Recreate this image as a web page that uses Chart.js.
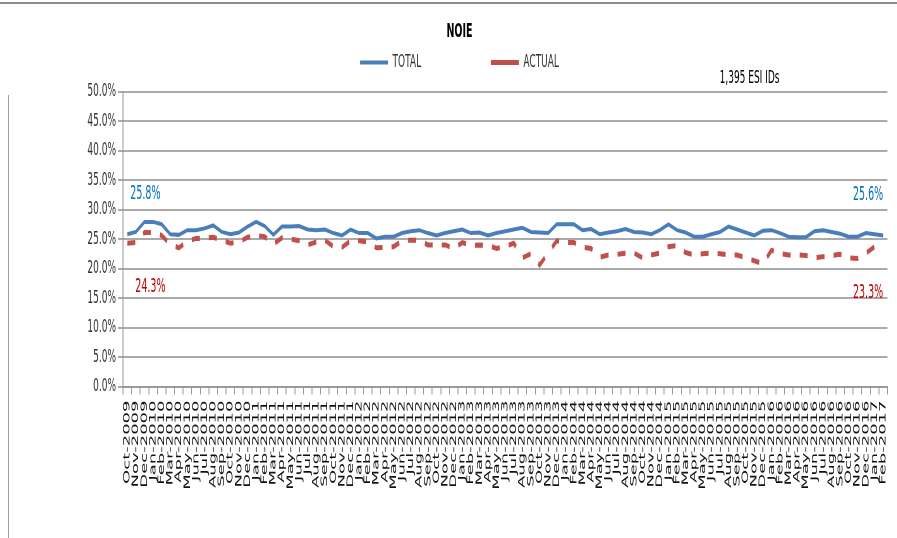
<!DOCTYPE html>
<html>
<head>
<meta charset="utf-8">
<script src="https://cdn.jsdelivr.net/npm/chart.js@4"></script>
<style>
  body { margin: 0; background: #fff; width: 897px; height: 538px; overflow: hidden; position: relative; }
  #mychart { position: absolute; left: 0; top: 0; transform: scaleY(2); transform-origin: 0 0; }
  .frameTop { position: absolute; left: 0; top: 2px; width: 897px; height: 2px; background: #8c8c8c; }
  .frameLeft { position: absolute; left: 8px; top: 95px; width: 1px; height: 443px; background: #a0a0a0; }
</style>
</head>
<body>
<div class="frameTop"></div>
<div class="frameLeft"></div>
<canvas id="mychart" width="897" height="269"></canvas>
<script>
var months = [
  'Oct-2009', 'Nov-2009', 'Dec-2009',
  'Jan-2010', 'Feb-2010', 'Mar-2010', 'Apr-2010', 'May-2010', 'Jun-2010', 'Jul-2010', 'Aug-2010', 'Sep-2010', 'Oct-2010', 'Nov-2010', 'Dec-2010',
  'Jan-2011', 'Feb-2011', 'Mar-2011', 'Apr-2011', 'May-2011', 'Jun-2011', 'Jul-2011', 'Aug-2011', 'Sep-2011', 'Oct-2011', 'Nov-2011', 'Dec-2011',
  'Jan-2012', 'Feb-2012', 'Mar-2012', 'Apr-2012', 'May-2012', 'Jun-2012', 'Jul-2012', 'Aug-2012', 'Sep-2012', 'Oct-2012', 'Nov-2012', 'Dec-2012',
  'Jan-2013', 'Feb-2013', 'Mar-2013', 'Apr-2013', 'May-2013', 'Jun-2013', 'Jul-2013', 'Aug-2013', 'Sep-2013', 'Oct-2013', 'Nov-2013', 'Dec-2013',
  'Jan-2014', 'Feb-2014', 'Mar-2014', 'Apr-2014', 'May-2014', 'Jun-2014', 'Jul-2014', 'Aug-2014', 'Sep-2014', 'Oct-2014', 'Nov-2014', 'Dec-2014',
  'Jan-2015', 'Feb-2015', 'Mar-2015', 'Apr-2015', 'May-2015', 'Jun-2015', 'Jul-2015', 'Aug-2015', 'Sep-2015', 'Oct-2015', 'Nov-2015', 'Dec-2015',
  'Jan-2016', 'Feb-2016', 'Mar-2016', 'Apr-2016', 'May-2016', 'Jun-2016', 'Jul-2016', 'Aug-2016', 'Sep-2016', 'Oct-2016', 'Nov-2016', 'Dec-2016',
  'Jan-2017', 'Feb-2017'
];

// percent values, one per month
var total = [
  25.8, 26.2, 27.9, 27.9, 27.5, 25.8, 25.7, 26.5, 26.5, 26.8, 27.3, 26.2, 25.8, 26.1, 27.1,
  27.9, 27.2, 25.7, 27.1, 27.1, 27.2, 26.6, 26.5, 26.6, 26.0, 25.6, 26.6, 26.0, 26.0, 25.1,
  25.4, 25.4, 26.0, 26.3, 26.5, 26.0, 25.6, 26.0, 26.3, 26.6, 26.0, 26.1, 25.6, 26.0, 26.3,
  26.6, 26.9, 26.2, 26.1, 26.0, 27.5, 27.5, 27.5, 26.5, 26.7, 25.8, 26.1, 26.3, 26.7, 26.2,
  26.1, 25.8, 26.5, 27.5, 26.5, 26.1, 25.4, 25.4, 25.8, 26.2, 27.1, 26.6, 26.1, 25.6, 26.4,
  26.5, 26.0, 25.4, 25.3, 25.3, 26.3, 26.5, 26.2, 25.9, 25.4, 25.4, 26.0, 25.8, 25.6
];
var actual = [
  24.3, 24.4, 26.1, 26.1, 25.6, 24.1, 23.5, 24.6, 25.1, 25.1, 25.3, 24.8, 24.3, 24.5, 25.3,
  25.6, 25.4, 24.1, 25.2, 25.0, 24.7, 24.0, 24.5, 24.8, 23.7, 23.6, 24.7, 24.7, 24.5, 23.5,
  23.6, 23.7, 24.7, 24.8, 24.8, 24.0, 24.0, 24.0, 23.4, 24.4, 23.9, 24.0, 23.9, 23.4, 23.7,
  24.3, 21.8, 22.5, 20.6, 22.6, 24.7, 24.4, 24.4, 23.6, 23.4, 21.9, 22.3, 22.4, 22.6, 22.6,
  21.8, 22.3, 22.6, 23.7, 23.9, 22.7, 22.3, 22.5, 22.6, 22.5, 22.3, 22.3, 21.8, 21.3, 20.8,
  23.1, 22.5, 22.3, 22.3, 22.2, 21.8, 22.0, 22.2, 22.4, 21.8, 21.7, 22.6, 23.7, 23.3
];
var yTicks = [0, 5, 10, 15, 20, 25, 30, 35, 40, 45, 50];
var esiNote = '1,395 ESI IDs';

var font = 'DejaVu Sans';

// first / last value labels and the ESI note
var endLabels = {
  id: 'endLabels',
  afterDatasetsDraw: function (chart) {
    var ctx = chart.ctx;
    ctx.save();
    ctx.font = '9.5px "DejaVu Sans"';
    ctx.textBaseline = 'middle';
    chart.data.datasets.forEach(function (ds, i) {
      var pts = chart.getDatasetMeta(i).data;
      var first = pts[0];
      var last = pts[pts.length - 1];
      var dy = i === 0 ? -20 : 22;
      ctx.fillStyle = ds.labelColor;
      ctx.textAlign = 'left';
      ctx.fillText(ds.data[0].toFixed(1) + '%', first.x + (i === 0 ? 3 : 8), first.y + dy);
      ctx.textAlign = 'right';
      ctx.fillText(ds.data[ds.data.length - 1].toFixed(1) + '%', last.x, last.y + dy);
    });
    ctx.font = '9px "DejaVu Sans"';
    ctx.fillStyle = '#000';
    ctx.textAlign = 'right';
    ctx.fillText(esiNote, chart.chartArea.right - 108, 39);
    ctx.restore();
  }
};

var myChart = new Chart(document.getElementById('mychart'), {
  type: 'line',
  data: {
    labels: months,
    datasets: [{
      label: 'TOTAL',
      data: total,
      borderColor: '#4A7EBB',
      backgroundColor: '#4A7EBB',
      borderWidth: 2,
      pointRadius: 0,
      tension: 0,
      labelColor: '#0070C0'
    }, {
      label: 'ACTUAL',
      data: actual,
      borderColor: '#C0504D',
      backgroundColor: '#C0504D',
      borderWidth: 2.5,
      borderDash: [8, 9],
      pointRadius: 0,
      tension: 0,
      labelColor: '#C00000'
    }]
  },
  options: {
    responsive: false,
    devicePixelRatio: 2,
    animation: false,
    layout: { padding: { left: 31, right: 9, top: 0, bottom: 0 } },
    plugins: {
      title: {
        display: true,
        text: 'NOIE',
        color: '#000',
        font: { family: font, size: 9.5, weight: 'bold' },
        padding: { top: 8, bottom: 1 }
      },
      legend: {
        labels: {
          usePointStyle: true,
          pointStyle: 'line',
          pointStyleWidth: 28,
          padding: 4,
          color: '#333',
          font: { family: font, size: 9 },
          generateLabels: function (chart) {
            var items = Chart.defaults.plugins.legend.labels.generateLabels(chart);
            items[0].text = items[0].text + ' '.repeat(23);
            return items;
          }
        }
      },
      tooltip: { enabled: false }
    },
    scales: {
      x: {
        offset: true,
        grid: { offset: true, drawOnChartArea: false, tickLength: 4, color: '#999' },
        border: { color: '#999' },
        ticks: {
          autoSkip: false,
          minRotation: 90,
          maxRotation: 90,
          padding: 3,
          color: '#111',
          font: { family: font, size: 9 }
        },
        afterFit: function (scale) { scale.height = 75.75; }
      },
      y: {
        min: 0,
        max: 50,
        afterBuildTicks: function (scale) {
          scale.ticks = yTicks.map(function (v) { return { value: v }; });
        },
        ticks: {
          padding: 2,
          color: '#333',
          font: { family: font, size: 9 },
          callback: function (v) { return v.toFixed(1) + '%'; }
        },
        grid: { color: '#aaa', tickLength: 5 },
        border: { color: '#999' },
        afterFit: function (scale) {
          scale.width = 92;
          scale.paddingTop = 45.75;
        }
      }
    }
  },
  plugins: [endLabels]
});
</script>
</body>
</html>
